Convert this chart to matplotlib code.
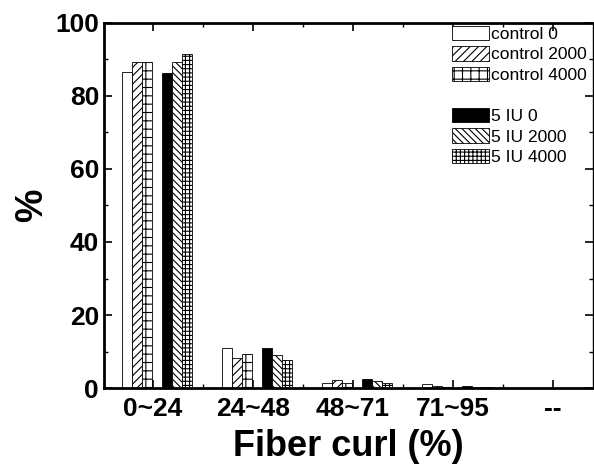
import numpy as np
import matplotlib
matplotlib.use('Agg')
import matplotlib.pyplot as plt
from matplotlib.patches import Rectangle

plt.rcParams['font.family'] = ['Liberation Sans', 'DejaVu Sans']
plt.rcParams['hatch.linewidth'] = 0.8

categories = ['0~24', '24~48', '48~71', '71~95', '--']
series = ['control 0', 'control 2000', 'control 4000', '5 IU 0', '5 IU 2000', '5 IU 4000']
values = {
    'control 0':    [86.6, 10.9, 1.5, 1.2, 0.0],
    'control 2000': [89.1, 8.4, 2.3, 0.65, 0.0],
    'control 4000': [89.1, 9.4, 1.5, 0.3, 0.0],
    '5 IU 0':       [86.2, 11.1, 2.6, 0.65, 0.0],
    '5 IU 2000':    [89.1, 9.1, 2.0, 0.3, 0.0],
    '5 IU 4000':    [91.4, 7.7, 1.3, 0.2, 0.0],
}

colors = ['white', 'white', 'white', 'black', 'white', 'white']
hatches = [None, '////', '++', None, '\\\\\\\\\\', '++++']
offsets = [-0.305, -0.205, -0.105, 0.09, 0.19, 0.29]
width = 0.1

fig = plt.figure(figsize=(5.94, 4.70), dpi=100)
ax = fig.add_axes([0.175, 0.174, 0.8225, 0.778])

x = np.arange(1, len(categories) + 1)
handles = []
for name, c, h, off in zip(series, colors, hatches, offsets):
    b = ax.bar(x + off, values[name], width, align='edge', color=c, hatch=h,
               edgecolor='black', linewidth=0.6, label=name)
    handles.append(b)

ax.set_xlim(0.51, 5.395)
ax.set_ylim(0, 100)
ax.set_xticks(x)
ax.set_xticklabels(categories)
ax.set_xticks(np.arange(1.5, 5.5, 1), minor=True)
ax.set_yticks(np.arange(0, 101, 20))
ax.set_yticks(np.arange(10, 100, 20), minor=True)
ax.tick_params(which='both', direction='in', top=True, right=True)
ax.tick_params(which='major', length=6, width=1.2, labelsize=19)
ax.tick_params(axis='x', which='major', pad=6)
ax.tick_params(which='minor', length=3, width=1)
for lab in ax.get_xticklabels() + ax.get_yticklabels():
    lab.set_fontweight('bold')

for s in ['left', 'bottom', 'top']:
    ax.spines[s].set_linewidth(2)
ax.spines['right'].set_linewidth(1)

ax.set_xlabel('Fiber curl (%)', fontsize=26, fontweight='bold', labelpad=6)
ax.set_ylabel('%', fontsize=27, fontweight='bold', labelpad=4)

blank = Rectangle((0, 0), 1, 1, fill=False, edgecolor='none')
leg_handles = handles[:3] + [blank] + handles[3:]
leg_labels = series[:3] + [''] + series[3:]
ax.legend(leg_handles, leg_labels, loc='upper right', frameon=False, fontsize=12.5,
          handlelength=2.1, handleheight=0.9, handletextpad=0.15, labelspacing=0.25,
          borderaxespad=0.2, bbox_to_anchor=(1.01, 1.02))

fig.savefig('out.png', dpi=100)
